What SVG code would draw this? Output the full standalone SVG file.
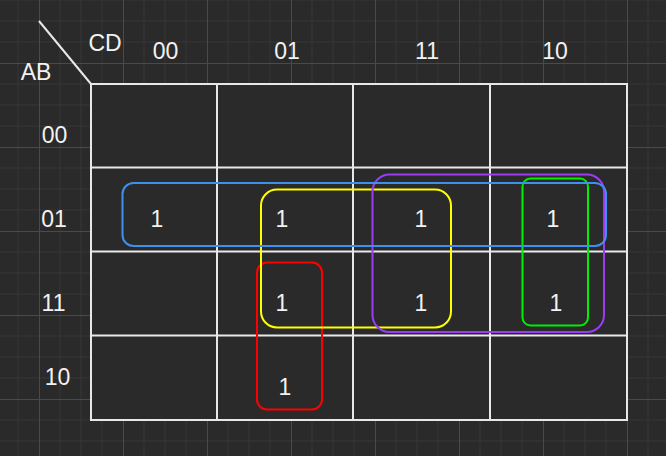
<svg xmlns="http://www.w3.org/2000/svg" width="666" height="456" viewBox="0 0 666 456">
<style>
  .lbl { font-family: "Liberation Sans", Arial, sans-serif; font-size: 23px; fill: #f2f2f2; text-anchor: middle; }
  .cell { fill: #2a2a2a; stroke: #e8e8e8; stroke-width: 2; }
  .ln { stroke: #e8e8e8; stroke-width: 2; fill: none; }
  .grp { fill: none; stroke-width: 2; }
</style>
<defs>
  <pattern id="grid" patternUnits="userSpaceOnUse" x="39" y="63" width="84" height="84">
    <path d="M21 0V84M42 0V84M63 0V84M0 21H84M0 42H84M0 63H84" stroke="#353535" stroke-width="1" fill="none"/>
    <path d="M0.5 0V84M0 0.5H84" stroke="#4a4a4a" stroke-width="1" fill="none"/>
  </pattern>
</defs>
<rect width="666" height="456" fill="#2a2a2a"/>
<rect width="666" height="456" fill="url(#grid)"/>

<g id="kmap-table">
  <rect class="cell" x="91" y="84" width="536" height="336"/>
  <path class="ln" d="M217 84V420M353 84V420M490 84V420M91 167.5H627M91 251.5H627M91 335.5H627"/>
  <line class="ln" x1="39" y1="21" x2="91" y2="84"/>
</g>

<g id="axis-labels">
  <text class="lbl" x="105" y="51">CD</text>
  <text class="lbl" x="36" y="80">AB</text>
  <text class="lbl" x="165.5" y="59">00</text>
  <text class="lbl" x="287" y="59">01</text>
  <text class="lbl" x="427" y="59">11</text>
  <text class="lbl" x="555" y="59">10</text>
  <text class="lbl" x="54.5" y="143">00</text>
  <text class="lbl" x="54" y="227">01</text>
  <text class="lbl" x="53.5" y="311">11</text>
  <text class="lbl" x="57.5" y="385">10</text>
</g>

<g id="cell-values">
  <text class="lbl" x="157" y="227">1</text>
  <text class="lbl" x="282" y="227">1</text>
  <text class="lbl" x="421" y="227">1</text>
  <text class="lbl" x="553" y="227">1</text>
  <text class="lbl" x="282" y="311">1</text>
  <text class="lbl" x="421" y="311">1</text>
  <text class="lbl" x="556" y="311">1</text>
  <text class="lbl" x="285" y="395">1</text>
</g>

<g id="groups">
  <rect id="group-red" class="grp" stroke="#ff0000" x="257" y="262.5" width="65" height="147" rx="10"/>
  <rect id="group-yellow" class="grp" stroke="#ffff00" x="261" y="189.5" width="190" height="138" rx="16"/>
  <rect id="group-purple" class="grp" stroke="#9b3cf5" x="372.5" y="174.5" width="231.5" height="157.5" rx="17"/>
  <rect id="group-green" class="grp" stroke="#00ee00" x="522.5" y="178.5" width="65.5" height="147" rx="8"/>
  <rect id="group-blue" class="grp" stroke="#3d90ec" x="122.5" y="183" width="483.5" height="63" rx="11"/>
</g>
</svg>
